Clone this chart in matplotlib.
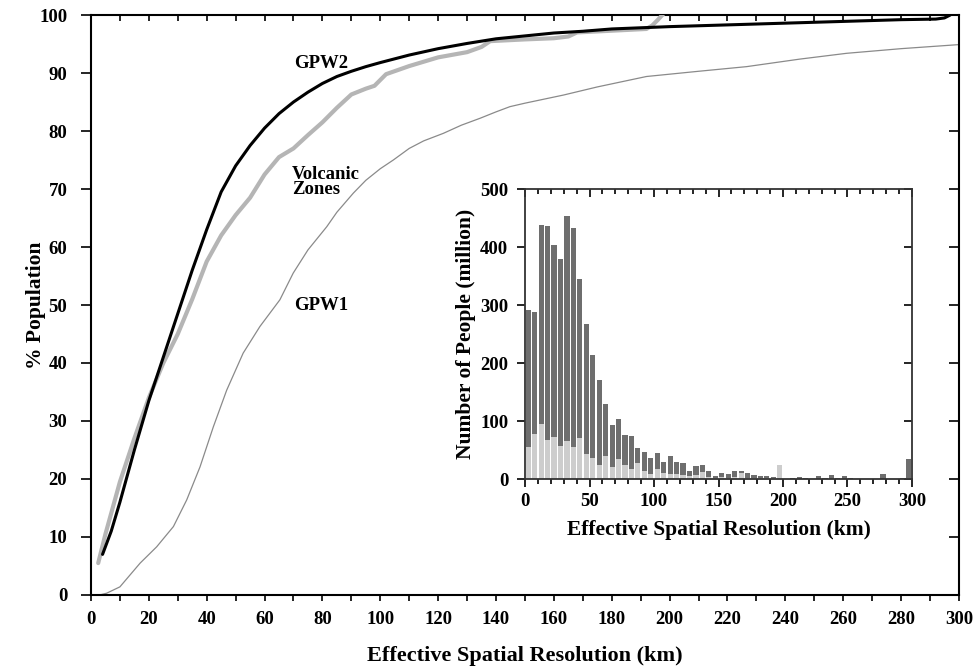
import matplotlib
matplotlib.use("Agg")
import matplotlib.pyplot as plt
import numpy as np
from matplotlib.ticker import MultipleLocator

plt.rcParams['font.family'] = ['Liberation Serif', 'DejaVu Serif']
plt.rcParams['font.weight'] = 'bold'

# ---- cumulative curves (x: effective resolution km, y: % population) ----
gpw2_x = [4, 7, 10, 15, 20, 25, 30, 35, 40, 45, 50, 55, 60, 65, 70, 75, 80, 85, 90, 95, 100,
          110, 120, 130, 140, 150, 160, 170, 180, 190, 200, 220, 240, 260, 280, 292, 295, 297]
gpw2_y = [7, 11, 16, 25, 33.5, 41, 48.5, 56, 63, 69.5, 74, 77.5, 80.5, 83, 85, 86.7, 88.2, 89.4, 90.3, 91.1, 91.8,
          93.1, 94.2, 95.1, 95.9, 96.4, 96.9, 97.2, 97.6, 97.8, 98.0, 98.3, 98.6, 98.9, 99.2, 99.3, 99.5, 100]

volc_x = [2.5, 5, 10, 15, 20, 25, 30, 35, 40, 45, 50, 55, 60, 65, 70, 75, 80, 85, 90, 95, 98,
          102, 110, 120, 130, 135, 138, 150, 160, 165, 168, 180, 192, 194, 196, 198, 200]
volc_y = [5.5, 10.5, 19.5, 27, 34, 40, 45, 51, 57.5, 62, 65.5, 68.5, 72.5, 75.5, 77, 79.3, 81.5, 84, 86.3, 87.3, 87.8,
          89.8, 91.2, 92.7, 93.6, 94.5, 95.5, 95.8, 96.0, 96.3, 97.0, 97.3, 97.6, 98.2, 99.2, 100.3, 101.5]

gpw1_x = [3, 5.4, 10, 17, 22.7, 28.5, 33.1, 37.7, 42.3, 46.9, 52.6, 58.4, 65.3, 69.9, 75, 81.5, 85, 90.7,
          95, 100, 104.5, 110, 115, 121.8, 128, 134.5, 140, 144.8, 150, 163.3, 175, 192, 210, 226.6,
          245, 261.2, 280, 300]
gpw1_y = [0, 0.3, 1.4, 5.5, 8.3, 11.8, 16.4, 22.1, 29, 35.3, 41.7, 46.3, 50.9, 55.5, 59.5, 63.5, 66, 69.3,
          71.5, 73.5, 75, 77, 78.3, 79.6, 81, 82.2, 83.3, 84.2, 84.8, 86.2, 87.6, 89.4, 90.3, 91.1,
          92.4, 93.4, 94.2, 94.9]

# ---- histogram (5 km bins, millions of people) ----
bin_left = list(range(0, 300, 5))
total = [292, 288, 438, 437, 403, 379, 454, 433, 345, 268, 214, 170, 129, 94, 103, 76, 74, 53, 47, 37,
         45, 30, 40, 30, 27, 14, 22, 24, 14, 6, 11, 8, 13, 14, 10, 7, 6, 5, 4, 24,
         0.5, 2.3, 4, 1, 0.5, 5.7, 2.3, 6.3, 2.3, 5.7, 2.3, 0.5, 0.5, 0.5, 0.5, 8.6, 0.5, 0.5, 1, 34]
volcanic = [56, 77, 95, 68, 73, 57, 66, 55, 70, 43, 36, 25, 40, 21, 35, 24, 18, 27, 14, 9,
            18, 10, 9, 9, 7.5, 5, 7, 12, 4, 2, 3, 2, 4, 10, 2, 1, 1, 1, 1, 24,
            0, 0.5, 0.5, 0, 0, 0.5, 0, 0.5, 0, 0.5, 0, 0, 0, 0, 0, 0.5, 0, 0, 0, 0]

fig = plt.figure(figsize=(9.73, 6.71), dpi=100)
ax = fig.add_axes([0.0935, 0.1133, 0.892, 0.8643])

ax.plot(gpw1_x, gpw1_y, color='#8a8a8a', lw=0.9, zorder=2)
ax.plot(volc_x, volc_y, color='#b5b5b5', lw=3.0, solid_capstyle='round', solid_joinstyle='round', zorder=3)
ax.plot(gpw2_x, gpw2_y, color='black', lw=2.2, solid_capstyle='round', solid_joinstyle='round', zorder=4)

ax.set_xlim(0, 300)
ax.set_ylim(0, 100)
ax.xaxis.set_major_locator(MultipleLocator(20))
ax.xaxis.set_minor_locator(MultipleLocator(10))
ax.yaxis.set_major_locator(MultipleLocator(10))
ax.tick_params(axis='both', which='both', labelsize=13.5, width=1.2)
ax.tick_params(axis='x', which='both', length=4.5, direction='out', top=True, pad=7)
ax.tick_params(axis='y', which='major', length=7, direction='out', right=True, pad=10)
for lbl in ax.get_xticklabels() + ax.get_yticklabels():
    lbl.set_fontweight('bold')
# top/right ticks inward
for t in ax.xaxis.get_major_ticks() + ax.xaxis.get_minor_ticks():
    t.tick2line.set_marker(3)
for t in ax.yaxis.get_major_ticks():
    t.tick2line.set_marker(0)
for s in ax.spines.values():
    s.set_linewidth(1.5)

ax.set_xlabel('Effective Spatial Resolution (km)', fontsize=16, fontweight='bold', labelpad=13)
ax.set_ylabel('% Population', fontsize=15.5, fontweight='bold', labelpad=-5)

ax.text(79.5, 91.7, 'GPW2', fontsize=13.5, fontweight='bold', ha='center', va='center')
ax.text(69.5, 71.2, 'Volcanic\nZones', fontsize=13.5, fontweight='bold', ha='left', va='center',
        linespacing=0.9)
ax.text(79.5, 50, 'GPW1', fontsize=13.5, fontweight='bold', ha='center', va='center')

# ---- inset ----
ins = fig.add_axes([0.5396, 0.2861, 0.3977, 0.4322])
tot = np.array(total, dtype=float)
vol = np.array(volcanic, dtype=float)
centers = np.array(bin_left) + 2.5
ins.bar(centers, vol, width=4.0, color='#cdcdcd', edgecolor='none', zorder=2)
ins.bar(centers, tot - vol, width=4.0, bottom=vol, color='#6e6e6e', edgecolor='none', zorder=2)
ins.set_xlim(0, 300)
ins.set_ylim(0, 500)
ins.xaxis.set_major_locator(MultipleLocator(50))
ins.xaxis.set_minor_locator(MultipleLocator(10))
ins.yaxis.set_major_locator(MultipleLocator(100))
ins.tick_params(axis='both', which='both', labelsize=13.5, width=1.2)
ins.tick_params(axis='x', which='major', length=6, direction='out', top=True, pad=4)
ins.tick_params(axis='x', which='minor', length=3.5, direction='out', top=True)
ins.tick_params(axis='y', which='major', length=6, direction='out', right=True, pad=6)
for t in ins.xaxis.get_major_ticks() + ins.xaxis.get_minor_ticks():
    t.tick2line.set_marker(3)
for t in ins.yaxis.get_major_ticks():
    t.tick2line.set_marker(0)
for lbl in ins.get_xticklabels() + ins.get_yticklabels():
    lbl.set_fontweight('bold')
for s in ins.spines.values():
    s.set_linewidth(1.3)
    s.set_color('#333333')
ins.set_xlabel('Effective Spatial Resolution (km)', fontsize=15.5, fontweight='bold', labelpad=7)
ins.set_ylabel('Number of People (million)', fontsize=15.5, fontweight='bold', labelpad=3)

fig.savefig('out.png', dpi=100)
